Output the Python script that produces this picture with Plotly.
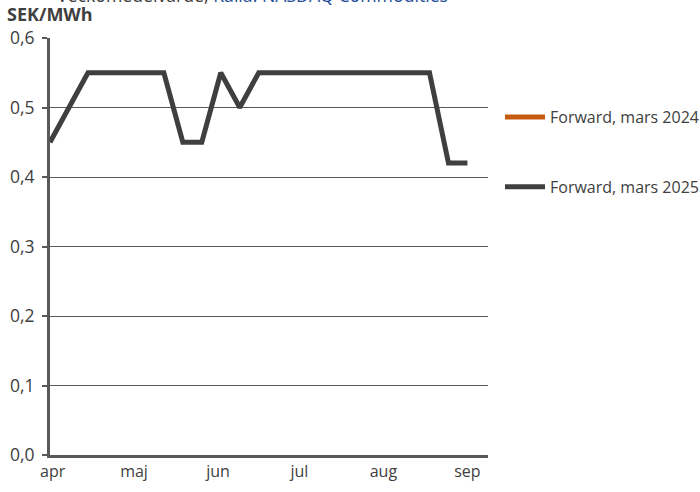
import plotly.graph_objects as go
import pandas as pd

dates = pd.date_range("2025-03-31", periods=23, freq="7D")
forward_2025 = [0.45, 0.50, 0.55, 0.55, 0.55, 0.55, 0.55, 0.45, 0.45, 0.55, 0.50, 0.55,
                0.55, 0.55, 0.55, 0.55, 0.55, 0.55, 0.55, 0.55, 0.55, 0.42, 0.42]
forward_2024 = [None] * len(dates)

month_ticks = ["2025-04-01", "2025-05-01", "2025-06-01", "2025-07-01", "2025-08-01", "2025-09-01"]
month_labels = ["apr", "maj", "jun", "jul", "aug", "sep"]
y_ticks = [0.0, 0.1, 0.2, 0.3, 0.4, 0.5, 0.6]

FONT = "Open Sans"
fig = go.Figure()
fig.add_trace(go.Scatter(x=dates, y=forward_2024, mode="lines", name="Forward, mars 2024",
                         line=dict(color="#C55A11", width=5), legendgroup="a"))
fig.add_trace(go.Scatter(x=dates, y=forward_2025, mode="lines", name="Forward, mars 2025",
                         line=dict(color="#3F3F3F", width=5), legendgroup="b"))

fig.update_layout(
    width=700, height=492,
    margin=dict(l=50, r=212, t=38, b=37, autoexpand=False),
    paper_bgcolor="white", plot_bgcolor="white",
    separators=", ",
    font=dict(family=FONT, size=16, color="#404040"),
    showlegend=True,
    legend=dict(x=1.0 + 12/438, xanchor="left", y=0.851, yanchor="top", traceorder="grouped",
                tracegroupgap=46, font=dict(size=16, color="#404040"),
                bgcolor="rgba(0,0,0,0)", itemwidth=40),
    xaxis=dict(type="date", range=["2025-03-31", "2025-09-08 14:00"],
               tickvals=month_ticks, ticktext=month_labels, showgrid=False,
               showline=True, linecolor="#595959", linewidth=3, ticks="",
               tickfont=dict(size=16, color="#404040"), zeroline=False),
    yaxis=dict(range=[0, 0.6], tickvals=y_ticks, tickformat=".1f",
               showgrid=True, gridcolor="#595959", gridwidth=1,
               showline=True, linecolor="#595959", linewidth=3,
               ticks="outside", ticklen=5, tickcolor="#595959", tickwidth=2,
               ticklabelstandoff=4,
               tickfont=dict(size=17.5, color="#404040"), zeroline=False),
    annotations=[
        dict(text="<b>SEK/MWh</b>", xref="paper", yref="paper", x=-45/438, y=1 + 10/417,
             xanchor="left", yanchor="bottom", showarrow=False,
             font=dict(size=18, color="#404040")),
        dict(text="Veckomedelvärde, <span style='color:#1F4E99'>Källa: NASDAQ Commodities</span>",
             xref="paper", yref="paper", x=5/438, y=1 + 29/417,
             xanchor="left", yanchor="bottom", showarrow=False,
             font=dict(size=17.7, color="#404040")),
    ],
)

fig.write_html("out.html", config={"displayModeBar": False},
               post_script="document.body.style.margin='0';")
